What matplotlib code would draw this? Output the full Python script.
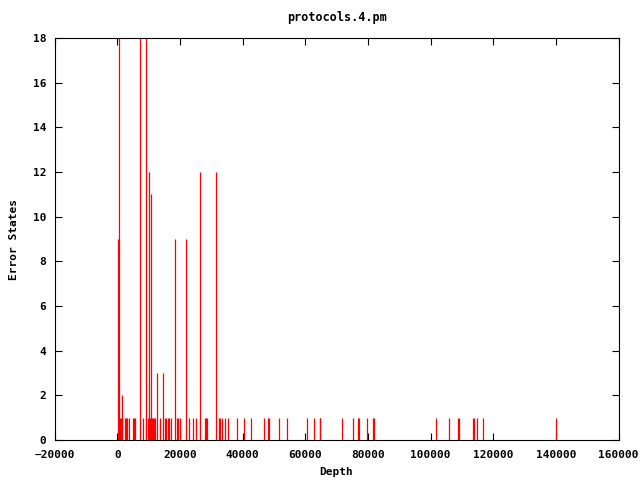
import matplotlib
matplotlib.use('Agg')
import matplotlib.pyplot as plt
import numpy as np

# impulses: depth -> error states
big_depth = [100, 450, 1430, 7170, 9080, 10160, 10900, 12710, 14500,
             18320, 21950, 26290, 31380]
big_states = [9, 18, 2, 18, 18, 12, 11, 3, 3, 9, 9, 12, 12]

one_depth = [1020, 1340, 1660, 2450, 2770, 3090, 3730, 5000, 5320, 5640,
             8250, 9300, 9780, 10260, 10580, 11060, 11370, 11690, 12010,
             13760, 15200, 15520, 16310, 16630, 17110, 19020, 19340, 20040,
             23000, 24120, 25140, 27880, 28260, 28740, 32400, 32880,
             33420, 34380, 35210, 38200, 40300, 42660, 46680, 48010, 48400,
             51580, 54230, 60690, 62920, 64640, 64830, 71650, 75160, 76690,
             77070, 79620, 81470, 81850, 101600, 105940, 108700, 109190,
             113490, 113810, 114860, 116580, 140150]

depth = np.array(big_depth + one_depth)
states = np.array(big_states + [1] * len(one_depth))

plt.rcParams['font.family'] = 'DejaVu Sans Mono'
plt.rcParams['font.weight'] = 'bold'
plt.rcParams['font.size'] = 8

fig = plt.figure(figsize=(6.4, 4.8), dpi=100)
ax = fig.add_axes([54.6/640, 40/480, 564/640, 402/480])

ax.vlines(depth, 0, states, color='#ff0000', linewidth=0.9)

ax.set_xlim(-20000, 160000)
ax.set_ylim(0, 18)
ax.set_xticks(np.arange(-20000, 160001, 20000))
ax.set_yticks(np.arange(0, 19, 2))
ax.tick_params(direction='in', top=True, right=True, length=5, width=0.8)
ax.tick_params(axis='x', pad=7)
ax.tick_params(axis='y', pad=6)
for s in ax.spines.values():
    s.set_linewidth(0.8)

ax.set_title('protocols.4.pm', fontsize=8.5, fontweight='bold', pad=12)
ax.set_xlabel('Depth', fontweight='bold', labelpad=5)
ax.set_ylabel('Error States', fontweight='bold', labelpad=10)

fig.savefig('out.png', dpi=100)
